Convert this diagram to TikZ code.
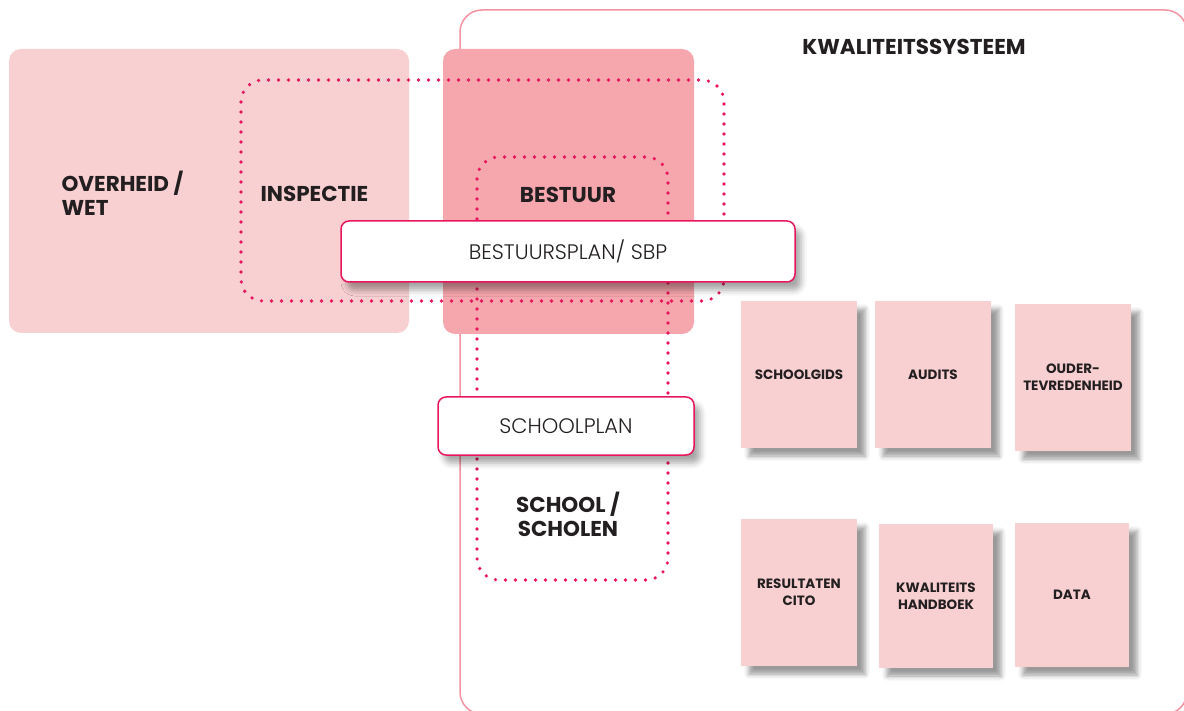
\documentclass[tikz,border=0pt]{standalone}
\usepackage{fontspec}
\setmainfont{Poppins}
\newfontfamily\lightfont{Poppins Light}
\usetikzlibrary{shadows.blur}
\definecolor{roze}{HTML}{F8D0D2}
\definecolor{donkerroze}{HTML}{F6A6AD}
\definecolor{magenta}{HTML}{E8175D}
\definecolor{randlijn}{HTML}{F2949F}
\definecolor{tekst}{HTML}{231F20}
\tikzset{
  vlak/.style={fill=#1, rounded corners=12pt, inner sep=0pt},
  stip/.style={draw=magenta, line width=3.6pt, line cap=round,
    dash pattern=on 0pt off 10pt, rounded corners=22pt},
  kop/.style={font=\bfseries\fontsize{21.5}{24}\selectfont, text=tekst, align=left},
  plan/.style={draw=magenta, line width=1.5pt, fill=white, rounded corners=8pt,
    inner sep=0pt, text=tekst, font=\lightfont\fontsize{21}{24}\selectfont,
    blur shadow={shadow xshift=6pt, shadow yshift=-8pt,
      shadow blur radius=6pt, shadow opacity=35}},
  kaart/.style={fill=roze, inner sep=0pt, text=tekst, align=center,
    font=\bfseries\fontsize{13.5}{17}\selectfont,
    blur shadow={shadow xshift=8pt, shadow yshift=-8pt,
      shadow blur radius=5pt, shadow opacity=40}},
}
\begin{document}
\begin{tikzpicture}[x=1pt, y=-1pt]
  \useasboundingbox (0,0) rectangle (1184,711);
  % kader kwaliteitssysteem
  \draw [randlijn, line width=1.5pt, rounded corners=22pt]
    (460,10) rectangle (1187,714);
  \node (kwal) [font=\bfseries\fontsize{21.5}{24}\selectfont, text=tekst]
    at (914,47) {KWALITEITSSYSTEEM};
  % vlakken
  \node (overheid) [vlak=roze, minimum width=400pt, minimum height=284pt]
    at (209,191) {};
  \node (bestuur) [vlak=donkerroze, minimum width=251pt, minimum height=285pt]
    at (568.5,191.5) {};
  % stippellijnen
  \draw [stip] (241,80) rectangle (724,301);
  \draw [stip] (477,157) rectangle (668,580);
  % teksten
  \node (wet) [kop, anchor=west] at (58,193) {OVERHEID /\\WET};
  \node (insp) [kop, anchor=west] at (257,194) {INSPECTIE};
  \node (best) [kop] at (568,195) {BESTUUR};
  \node (school) [kop, align=center] at (568,514) {SCHOOL /\\SCHOLEN};
  % plannen
  \node (sbp) [plan, minimum width=454pt, minimum height=61pt]
    at (568,251.5) {BESTUURSPLAN/ SBP};
  \node (splan) [plan, minimum width=256pt, minimum height=58pt]
    at (566,426) {SCHOOLPLAN};
  % kaarten
  \node (gids) [kaart, minimum width=116pt, minimum height=147pt]
    at (799,374.5) {SCHOOLGIDS};
  \node (audits) [kaart, minimum width=116pt, minimum height=147pt]
    at (933,374.5) {AUDITS};
  \node (ouder) [kaart, minimum width=116pt, minimum height=147pt]
    at (1073,377.5) {OUDER-\\TEVREDENHEID};
  \node (cito) [kaart, minimum width=116pt, minimum height=147pt]
    at (799,592.5) {RESULTATEN\\CITO};
  \node (handboek) [kaart, minimum width=114pt, minimum height=144pt]
    at (936,596) {KWALITEITS\\HANDBOEK};
  \node (data) [kaart, minimum width=114pt, minimum height=144pt]
    at (1072,595) {DATA};
\end{tikzpicture}
\end{document}
